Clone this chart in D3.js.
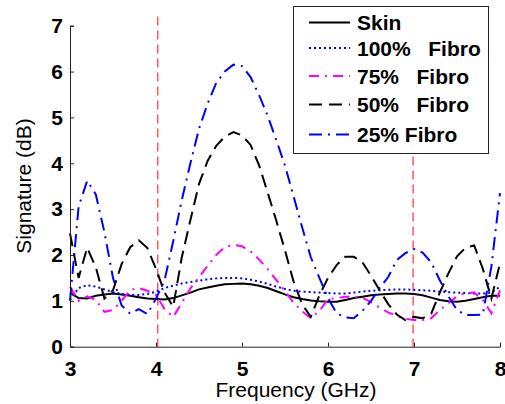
<!DOCTYPE html>
<html>
<head>
<meta charset="utf-8">
<script src="https://cdn.jsdelivr.net/npm/d3@7"></script>
<style>
  body { margin: 0; background: #fff; }
  text { font-family: Arial, "Liberation Sans", sans-serif; }
  .tick text { font-weight: bold; font-size: 21px; fill: #000; }
  .line { fill: none; stroke-width: 2; }
</style>
</head>
<body>
<svg id="chart"></svg>
<script>
const freq = d3.range(30, 81).map((d) => d / 10);

const skin = [1.18, 1.06, 1.05, 1.11, 1.14, 1.16, 1.14, 1.11, 1.08, 1.05,
  1.04, 1.03, 1.06, 1.12, 1.18, 1.25, 1.29, 1.33, 1.36, 1.37,
  1.38, 1.36, 1.33, 1.28, 1.21, 1.14, 1.08, 1.04, 1.01, 0.99,
  0.98, 0.98, 1.02, 1.06, 1.09, 1.12, 1.14, 1.15, 1.16, 1.16,
  1.15, 1.12, 1.07, 1.02, 0.99, 0.98, 1.00, 1.04, 1.08, 1.11, 1.11];

const fibro100 = [1.02, 1.28, 1.34, 1.31, 1.25, 1.19, 1.15, 1.13, 1.13, 1.15,
  1.20, 1.28, 1.33, 1.38, 1.41, 1.44, 1.47, 1.49, 1.50, 1.50,
  1.49, 1.46, 1.42, 1.37, 1.31, 1.26, 1.22, 1.20, 1.19, 1.18,
  1.17, 1.16, 1.16, 1.18, 1.20, 1.22, 1.23, 1.24, 1.25, 1.25,
  1.24, 1.23, 1.22, 1.20, 1.19, 1.18, 1.17, 1.16, 1.16, 1.18, 1.31];

const fibro75 = [1.31, 1.00, 1.10, 1.02, 0.76, 0.80, 1.00, 1.24, 1.28, 1.22,
  1.13, 0.82, 0.65, 0.95, 1.27, 1.52, 1.76, 2.00, 2.17, 2.22,
  2.19, 2.08, 1.90, 1.69, 1.45, 1.21, 0.96, 0.77, 0.62, 0.78,
  1.04, 1.06, 1.09, 1.09, 1.07, 0.97, 0.85, 0.75, 0.67, 0.61,
  0.58, 0.58, 0.62, 0.80, 0.95, 1.10, 1.17, 1.18, 1.02, 0.73, 1.23];

const fibro50 = [2.47, 1.50, 2.16, 1.73, 1.05, 1.23, 1.80, 2.17, 2.32, 2.15,
  1.70, 1.18, 0.87, 1.95, 2.76, 3.55, 4.05, 4.38, 4.58, 4.68,
  4.61, 4.40, 3.95, 3.35, 2.74, 2.10, 1.42, 0.92, 0.65, 1.12,
  1.50, 1.78, 1.96, 1.96, 1.84, 1.55, 1.23, 0.93, 0.70, 0.58,
  0.65, 0.62, 0.72, 1.18, 1.60, 1.97, 2.16, 2.21, 1.70, 1.05, 1.82];

const fibro25 = [1.00, 3.05, 3.62, 3.32, 2.50, 1.50, 0.90, 0.72, 0.82, 0.71,
  1.05, 1.45, 2.30, 3.20, 4.00, 4.75, 5.30, 5.75, 6.00, 6.15,
  6.12, 5.88, 5.48, 5.03, 4.50, 3.95, 3.28, 2.60, 1.95, 1.50,
  1.06, 0.73, 0.64, 0.62, 0.78, 1.00, 1.28, 1.52, 1.89, 2.04,
  2.13, 2.05, 1.84, 1.45, 1.10, 0.80, 0.69, 0.69, 0.70, 1.75, 3.35];

const seriesNames = ["Skin", "100%   Fibro", "75%   Fibro", "50%   Fibro", "25% Fibro"];
const markers = [4.02, 6.99];
const xTicks = [3, 4, 5, 6, 7, 8];
const yTicks = [0, 1, 2, 3, 4, 5, 6, 7];

const styles = [
  { color: "#000000", dash: null },
  { color: "#0000ff", dash: "2,3" },
  { color: "#ff00ff", dash: "10,6,2,6" },
  { color: "#000000", dash: "13,7" },
  { color: "#0000ff", dash: "13,6,2,6" }
];

const svg = d3.select("#chart").attr("width", 505).attr("height", 404);

const x = d3.scaleLinear().domain([3, 8]).range([70, 500]);
const y = d3.scaleLinear().domain([0, 7]).range([346.7, 25.7]);

// red marker lines
svg.selectAll(".marker")
  .data(markers)
  .enter()
  .append("line")
  .attr("x1", (d) => x(d)).attr("x2", (d) => x(d))
  .attr("y1", y(7.2)).attr("y2", y(0))
  .attr("stroke", "#ff5a5a")
  .attr("stroke-width", 1.5)
  .attr("stroke-dasharray", "9,5");

// curves
const allSeries = [skin, fibro100, fibro75, fibro50, fibro25];
const line = d3.line()
  .x((d, i) => x(freq[i]))
  .y((d) => y(d));

allSeries.forEach((s, i) => {
  svg.append("path")
    .datum(s)
    .attr("class", "line")
    .attr("d", line)
    .attr("stroke", styles[i].color)
    .attr("stroke-dasharray", styles[i].dash);
});

// axes
const xAxis = svg.append("g")
  .attr("transform", "translate(0," + y(0) + ")")
  .call(d3.axisBottom(x).tickValues(xTicks).tickSize(-4).tickPadding(10).tickFormat(d3.format("d")));
const yAxis = svg.append("g")
  .attr("transform", "translate(" + x(3) + ",0)")
  .call(d3.axisLeft(y).tickValues(yTicks).tickSize(-4).tickPadding(7).tickFormat(d3.format("d")));
[xAxis, yAxis].forEach((g) => {
  g.select(".domain").attr("stroke", "#222");
  g.selectAll(".tick line").attr("stroke", "#222");
});
xAxis.selectAll(".tick text").attr("dy", "0.9em");

svg.append("text")
  .attr("x", 296)
  .attr("y", 397)
  .attr("text-anchor", "middle")
  .attr("font-size", "21px")
  .text("Frequency (GHz)");

svg.append("text")
  .attr("transform", "translate(31,186) rotate(-90)")
  .attr("text-anchor", "middle")
  .attr("font-size", "21px")
  .text("Signature (dB)");

// legend
const legendY = [22.5, 48, 76, 104.5, 134.5];
const legend = svg.append("g");
legend.append("rect")
  .attr("x", 293.5).attr("y", 6.5)
  .attr("width", 195).attr("height", 147)
  .attr("fill", "#fff")
  .attr("stroke", "#222")
  .attr("stroke-width", 1);

seriesNames.forEach((name, i) => {
  legend.append("line")
    .attr("x1", 309).attr("x2", 350)
    .attr("y1", legendY[i]).attr("y2", legendY[i])
    .attr("stroke", styles[i].color)
    .attr("stroke-width", 2)
    .attr("stroke-dasharray", styles[i].dash);
  legend.append("text")
    .attr("x", 357)
    .attr("y", legendY[i] + 7.5)
    .attr("font-size", "21px")
    .attr("font-weight", "bold")
    .style("white-space", "pre")
    .text(name);
});
</script>
</body>
</html>
